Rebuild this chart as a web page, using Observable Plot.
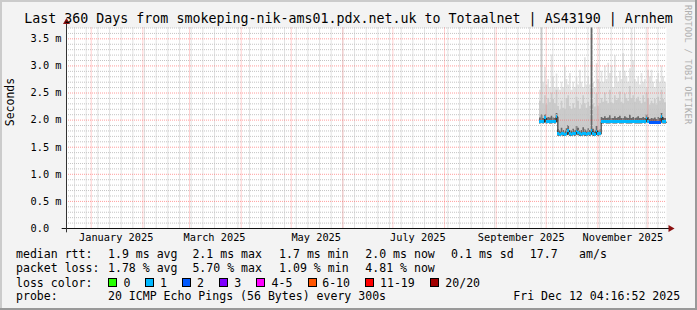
<!DOCTYPE html>
<html>
<head>
<meta charset="utf-8">
<script src="https://cdn.jsdelivr.net/npm/d3@7"></script>
<script src="https://cdn.jsdelivr.net/npm/@observablehq/plot@0.6"></script>
<style>
html,body{margin:0;padding:0;background:#f3f3f3;}
#wrap{position:relative;width:697px;height:310px;background:#f3f3f3;overflow:hidden;font-family:"DejaVu Sans Mono",monospace;color:#000;}
#chart{position:absolute;left:0;top:0;}
.t{position:absolute;white-space:pre;font-size:11.55px;line-height:14px;}
.box{position:absolute;width:7px;height:7px;border:1px solid #000;}
#title{position:absolute;left:0;top:11px;width:697px;text-align:center;font-size:13.3px;line-height:16px;white-space:pre;}
#wm{position:absolute;left:683px;top:5px;writing-mode:vertical-rl;font-size:8.6px;letter-spacing:0.25px;color:#b0b0b0;white-space:pre;}
.edge{position:absolute;}
</style>
</head>
<body>
<div id="wrap">
  <div id="chart"></div>
  <div id="title"></div>
  <div id="wm"></div>
  <div id="legend"></div>
  <div class="edge" style="left:0;top:0;width:697px;height:2px;background:#cbcbcb"></div>
  <div class="edge" style="left:0;top:0;width:2px;height:310px;background:#cbcbcb"></div>
  <div class="edge" style="left:695px;top:0;width:2px;height:310px;background:#999"></div>
  <div class="edge" style="left:0;top:308px;width:697px;height:2px;background:#999"></div>
</div>
<script>
// ---------- data ----------
const titleText = "Last 360 Days from smokeping-nik-ams01.pdx.net.uk to Totaalnet | AS43190 | Arnhem";
const watermark = "RRDTOOL / TOBI OETIKER";
const yLabel = "Seconds";

const rangeStart = new Date(Date.UTC(2024, 11, 17, 4, 16, 52));
const rangeEnd = new Date(Date.UTC(2025, 11, 12, 4, 16, 52));
const dataStart = new Date(Date.UTC(2025, 8, 27));

const yTicks = [0, 0.5, 1.0, 1.5, 2.0, 2.5, 3.0, 3.5];
const xLabelDates = [
  new Date(Date.UTC(2025, 0, 16)), new Date(Date.UTC(2025, 2, 16)),
  new Date(Date.UTC(2025, 4, 16)), new Date(Date.UTC(2025, 6, 16)),
  new Date(Date.UTC(2025, 8, 16)), new Date(Date.UTC(2025, 10, 16))
];

// daily median rtt (ms)
const median = [
1.96,1.97,1.96,2.04,1.96,1.97,1.96,1.96,1.97,1.96,
2.06,1.74,1.73,1.74,1.74,1.73,1.74,1.80,1.74,1.73,
1.74,1.74,1.79,1.76,1.74,1.73,1.74,1.74,1.73,1.74,
1.74,1.80,1.74,1.73,1.79,1.74,1.74,1.96,1.96,1.97,
1.96,1.96,1.96,1.97,1.96,1.96,1.96,1.97,1.96,1.96,
1.96,1.97,1.96,1.96,1.96,1.96,1.97,1.96,1.96,1.96,
1.96,1.96,1.97,1.96,2.03,1.97,1.95,1.95,1.95,1.95,
1.95,1.95,1.95,2.05,1.96,1.96];
// lost pings per 20
const lossPings = [
1,1,1,1,1,1,1,1,1,1, 1,1,1,1,1,1,1,1,1,1, 1,1,1,1,1,1,1,1,1,1,
1,1,1,1,1,1,1,1,1,1, 1,1,1,1,1,1,1,1,1,1, 1,1,1,1,1,1,1,1,1,1,
1,1,1,1,1,1,2,2,2,2, 2,2,2,1,1,1];
// smoke: lowest ping, dark core top, dense band top, highest ping (ms)
const smokeLow = [
1.93,1.94,1.93,1.95,1.93,1.94,1.93,1.93,1.94,1.93,
1.96,1.70,1.70,1.71,1.70,1.70,1.71,1.72,1.70,1.70,
1.71,1.70,1.72,1.71,1.70,1.70,1.71,1.70,1.70,1.71,
1.70,1.72,1.70,1.70,1.72,1.70,1.71,1.93,1.93,1.94,
1.93,1.93,1.93,1.94,1.93,1.93,1.93,1.94,1.93,1.93,
1.93,1.94,1.93,1.93,1.93,1.93,1.94,1.93,1.93,1.93,
1.93,1.93,1.94,1.93,1.96,1.94,1.92,1.92,1.92,1.92,
1.92,1.92,1.92,1.97,1.93,1.93];
const smokeCore = [
2.04,2.10,2.03,2.10,2.03,2.05,2.04,2.07,2.04,2.03,
2.12,1.82,1.80,1.85,1.81,1.80,1.84,1.90,1.81,1.80,
1.83,1.81,1.88,1.85,1.80,1.81,1.86,1.82,1.80,1.84,
1.81,3.70,1.83,1.80,1.88,1.81,1.82,2.05,2.03,2.06,
2.03,2.04,2.08,2.03,2.03,2.06,2.03,2.05,2.07,2.03,
2.03,2.06,2.04,2.03,2.09,2.03,2.05,2.03,2.04,2.06,
2.03,2.03,2.05,2.03,2.10,2.05,2.01,2.03,2.02,2.04,
2.01,2.05,2.03,2.12,2.04,2.03];
const smokeMid = [
2.35,3.70,2.30,2.45,2.28,2.40,2.32,2.50,2.38,2.30,
2.55,2.25,2.18,2.35,2.22,2.20,2.40,2.45,2.25,2.20,
2.30,2.22,2.42,2.35,2.20,2.28,2.45,2.30,2.22,2.33,
2.25,3.70,2.30,2.24,2.48,2.26,2.30,2.40,2.33,2.50,
2.35,2.30,2.55,2.32,2.30,2.45,2.36,2.40,2.52,2.33,
2.30,2.48,2.40,2.35,2.62,2.40,2.45,2.33,2.38,2.42,
2.35,2.30,2.45,2.33,2.50,2.40,2.28,2.35,2.30,2.38,
2.28,2.42,2.35,2.55,2.38,2.32];
const smokeMax = [
2.55,3.70,2.70,2.97,2.65,2.75,2.60,3.20,2.80,2.60,
2.85,2.60,2.55,2.70,2.60,2.98,2.75,2.65,2.86,2.55,
2.70,2.60,2.80,2.65,2.92,2.70,2.60,3.15,2.65,2.80,
2.65,3.70,2.70,2.60,3.04,2.75,2.70,2.90,2.70,3.00,
2.75,3.05,2.86,3.00,2.60,3.19,2.80,2.70,2.90,2.75,
3.23,2.90,2.80,2.70,2.95,3.70,3.10,2.75,2.70,2.80,
2.65,2.86,2.70,2.75,2.60,2.92,2.80,2.92,2.70,2.60,
2.75,2.86,2.70,3.00,2.80,2.70];

const lossLabels = ["0","1","2","3","4-5","6-10","11-19","20/20"];
const lossColors = ["#26ff00","#00b8ff","#0059ff","#7e00ff","#ff00ff","#ff5500","#ff0000","#a10000"];

const rttStats = ["median rtt:","1.9 ms avg","2.1 ms max","1.7 ms min","2.0 ms now","0.1 ms sd","17.7","am/s"];
const lossStats = ["packet loss:","1.78 % avg","5.70 % max","1.09 % min","4.81 % now"];
const lossTitle = "loss color:";
const probeTexts = ["probe:","20 ICMP Echo Pings (56 Bytes) every 300s","Fri Dec 12 04:16:52 2025"];

// ---------- layout ----------
const statX = [16,108,192.4,279.1,365.3,451.1,529.8,579.1];
const probeX = [16,108,513.3];
const boxX = [108,144.9,182.2,219.1,256.4,307.6,365.3,430.2];
const boxLabelX = [123.6,160,196.9,234.2,271.6,322.2,380,445.3];
const rowTop = [247,261,275.5,289];

// ---------- build rows ----------
const DAY = 864e5;
const rows = median.map((m, i) => ({
  date: new Date(+dataStart + i * DAY),
  next: i === median.length - 1 ? rangeEnd : new Date(+dataStart + (i + 1) * DAY),
  med: m, lo: smokeLow[i], core: smokeCore[i], mid: smokeMid[i], max: smokeMax[i],
  loss: lossPings[i]
}));
const rowsExt = [...rows, {...rows[rows.length - 1], date: rangeEnd}];
const lossColor = n => n <= 0 ? lossColors[0] : n === 1 ? lossColors[1] : n === 2 ? lossColors[2] :
  n === 3 ? lossColors[3] : n <= 5 ? lossColors[4] : n <= 10 ? lossColors[5] : n <= 19 ? lossColors[6] : lossColors[7];

const minorY = d3.range(1, 38).map(i => i / 10).filter(v => Math.abs(v * 2 - Math.round(v * 2)) > 1e-6);
const weeks = d3.utcSunday.range(rangeStart, rangeEnd);
const months = d3.utcMonth.range(rangeStart, rangeEnd);
const band = 0.027;
const pxDay = 600 / 360;

const chart = Plot.plot({
  width: 697, height: 245,
  marginLeft: 66, marginRight: 31, marginTop: 27.5, marginBottom: 17,
  style: {background: "transparent", fontFamily: '"DejaVu Sans Mono", monospace', fontSize: "10.3px", color: "#000", overflow: "visible"},
  x: {type: "utc", domain: [rangeStart, rangeEnd]},
  y: {domain: [0, 3.7]},
  marks: [
    Plot.frame({fill: "white", stroke: null}),
    Plot.areaY(rowsExt, {x: "date", y1: "lo", y2: "max", curve: "step-after", fill: "#e3e3e3"}),
    Plot.areaY(rowsExt, {x: "date", y1: "lo", y2: "mid", curve: "step-after", fill: "#cbcbcb"}),
    Plot.areaY(rowsExt, {x: "date", y1: "lo", y2: "core", curve: "step-after", fill: "#6a6a6a"}),
    Plot.ruleY(minorY, {stroke: "#c4c4c4", strokeDasharray: "1,1", strokeWidth: 1}),
    Plot.ruleX(weeks, {stroke: "#c4c4c4", strokeDasharray: "1,1", strokeWidth: 1}),
    Plot.ruleY(yTicks.filter(v => v > 0), {stroke: "#ff5c5c", strokeOpacity: 0.6, strokeDasharray: "1,1"}),
    Plot.ruleX(months, {stroke: "#ff5c5c", strokeOpacity: 0.6, strokeDasharray: "1,1"}),
    Plot.lineY(rowsExt, {x: "date", y: "med", curve: "step-after", stroke: "#202020", strokeWidth: 1}),
    Plot.rect(rows, {x1: "date", x2: "next", y1: d => d.med - band, y2: d => d.med + band,
      fill: d => lossColor(d.loss), shapeRendering: "crispEdges"}),
    Plot.ruleY([0], {x1: new Date(+rangeStart - 2.6 * DAY), x2: new Date(+rangeEnd + 2.2 * DAY), stroke: "#111"}),
    Plot.ruleX([rangeStart], {y1: -0.08, y2: 3.78, stroke: "#333"}),
    Plot.dot([rangeEnd], {x: d => new Date(+d + 4 / pxDay * DAY), y: 0, symbol: "triangle", rotate: 90, r: 2.6, fill: "#8b1010", stroke: null}),
    Plot.dot([rangeStart], {x: d => d, y: 3.81, symbol: "triangle", r: 2.6, fill: "#8b1010", stroke: null}),
    Plot.axisY(yTicks, {tickSize: 0, tickPadding: 36, textAnchor: "start", label: null,
      tickFormat: v => v === 0 ? "0.0" : v.toFixed(1) + " m", fontSize: 10.3}),
    Plot.axisX(xLabelDates, {tickSize: 0, tickPadding: 5, label: null, tickFormat: d3.utcFormat("%B %Y"), fontSize: 10.3}),
    Plot.text([yLabel], {frameAnchor: "left", dx: -56, dy: -2, rotate: -90, fontSize: 11.5, fill: "#000"})
  ]
});
document.getElementById("chart").appendChild(chart);

document.getElementById("title").textContent = titleText;
document.getElementById("wm").textContent = watermark;

const legend = document.getElementById("legend");
function addText(txt, x, top) {
  const d = document.createElement("div");
  d.className = "t"; d.style.left = x + "px"; d.style.top = top + "px";
  d.textContent = txt; legend.appendChild(d);
}
rttStats.forEach((s, i) => addText(s, statX[i], rowTop[0]));
lossStats.forEach((s, i) => addText(s, statX[i], rowTop[1]));
addText(lossTitle, 16, rowTop[2]);
lossLabels.forEach((s, i) => {
  const b = document.createElement("div");
  b.className = "box"; b.style.left = boxX[i] + "px"; b.style.top = (rowTop[2] + 2.5) + "px";
  b.style.background = lossColors[i]; legend.appendChild(b);
  addText(s, boxLabelX[i], rowTop[2]);
});
probeTexts.forEach((s, i) => addText(s, probeX[i], rowTop[3]));
</script>
</body>
</html>
